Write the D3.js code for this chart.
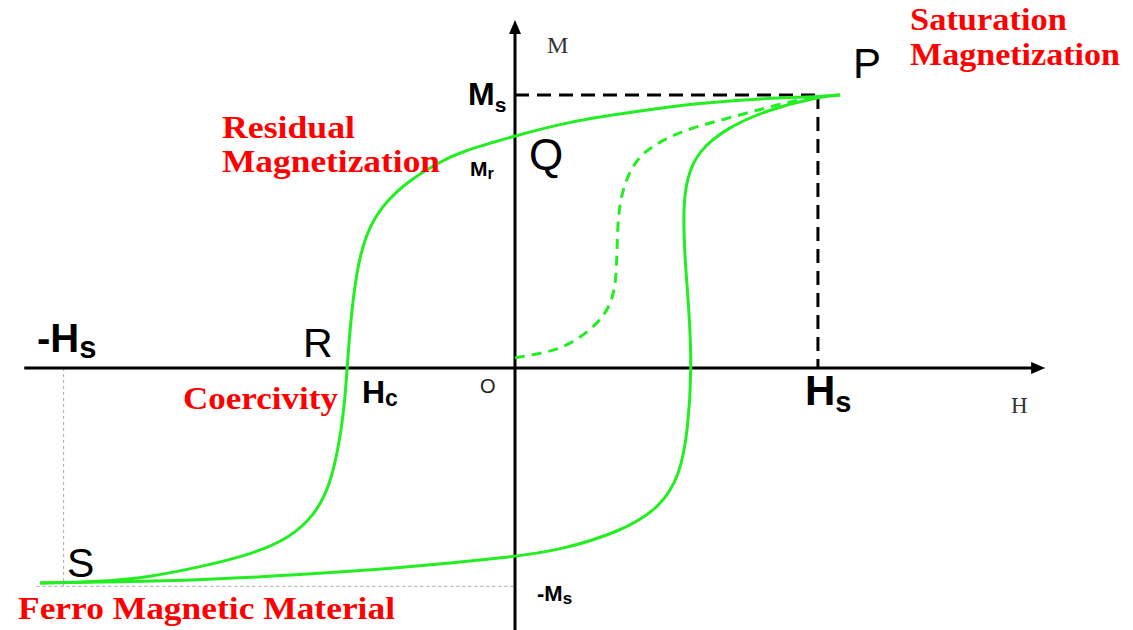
<!DOCTYPE html>
<html>
<head>
<meta charset="utf-8">
<script src="https://cdn.jsdelivr.net/npm/d3@7"></script>
<style>
	body { margin: 0; background: #fff; }
	svg { display: block; }
</style>
</head>
<body>
<svg id="canvas" width="1133" height="630"></svg>
<script>
// field H and magnetization M in relative units (Hs = 10, Ms = 10)
const satH = 10;
const satHNeg = -14.9;
const satM = 10;
const satMNeg = -8.0;

// upper branch, from P down to S
const upperH = [10.73, 10.0, 8.32, 6.11, 3.89, 1.72, 0, -1.82, -2.48, -3.47, -4.22, -4.79, -5.12, -5.31, -5.45, -5.54, -5.64, -5.84, -6.11, -6.6, -7.43, -8.75, -10.4, -12.05, -13.7, -15.68];
const upperM = [10.0, 9.93, 9.89, 9.71, 9.38, 9.01, 8.5, 7.91, 7.55, 6.89, 6.15, 5.24, 4.14, 2.86, 1.39, 0, -1.54, -3.0, -4.29, -5.38, -6.23, -6.85, -7.29, -7.66, -7.84, -7.88];

// lower branch, from S back up to P
const lowerH = [-15.68, -13.04, -10.4, -7.1, -3.8, 0, 1.49, 3.47, 4.79, 5.45, 5.71, 5.84, 5.74, 5.6, 5.55, 5.68, 6.05, 7.0, 8.32, 10.0, 10.73];
const lowerM = [-7.88, -7.84, -7.77, -7.58, -7.33, -6.92, -6.67, -6.01, -5.13, -3.92, -2.27, 0, 2.23, 4.07, 5.9, 7.0, 7.95, 8.8, 9.45, 9.93, 10.0];

// initial magnetization curve (dashed)
const initH = [0, 0.92, 1.72, 2.81, 3.3, 3.37, 3.4, 3.89, 4.46, 5.54, 7.19, 8.84, 9.97];
const initM = [0.37, 0.55, 0.77, 1.65, 2.6, 4.07, 6.15, 7.51, 8.1, 8.72, 9.19, 9.71, 9.93];

let canvas = d3.select("#canvas");

let xScale = d3.scaleLinear().domain([-17, 20.4]).range([0, 1133]);
let yScale = d3.scaleLinear().domain([13.48, -9.6]).range([0, 630]);

let green = "#22ee22";

let line = d3.line()
		.x((d) => xScale(d[0]))
		.y((d) => yScale(d[1]))
		.curve(d3.curveBasis);

let zip = (a, b) => a.map((v, i) => [v, b[i]]);

// thin grey guides at -Hs and -Ms
canvas.append("line")
		.attr("x1", xScale(satHNeg)).attr("x2", xScale(satHNeg))
		.attr("y1", yScale(0)).attr("y2", yScale(satMNeg))
		.attr("stroke", "#aaa").attr("stroke-width", 1).attr("stroke-dasharray", "3,3");
canvas.append("line")
		.attr("x1", xScale(-15.8)).attr("x2", xScale(0))
		.attr("y1", yScale(satMNeg)).attr("y2", yScale(satMNeg))
		.attr("stroke", "#aaa").attr("stroke-width", 1).attr("stroke-dasharray", "3,3");

// black dashed guides at Ms and Hs
canvas.append("line")
		.attr("x1", xScale(0)).attr("x2", xScale(satH))
		.attr("y1", yScale(satM)).attr("y2", yScale(satM))
		.attr("stroke", "#000").attr("stroke-width", 3).attr("stroke-dasharray", "14,8");
canvas.append("line")
		.attr("x1", xScale(satH)).attr("x2", xScale(satH))
		.attr("y1", yScale(satM)).attr("y2", yScale(0))
		.attr("stroke", "#000").attr("stroke-width", 3).attr("stroke-dasharray", "14,8");

// axes
canvas.append("line")
		.attr("x1", xScale(-16.2)).attr("x2", xScale(17.1))
		.attr("y1", yScale(0)).attr("y2", yScale(0))
		.attr("stroke", "#000").attr("stroke-width", 3);
canvas.append("line")
		.attr("x1", xScale(0)).attr("x2", xScale(0))
		.attr("y1", yScale(-9.6)).attr("y2", yScale(12.3))
		.attr("stroke", "#000").attr("stroke-width", 3);

let hx = xScale(17.5), hy = yScale(0);
canvas.append("path")
		.attr("d", `M${hx},${hy} L${hx - 14},${hy - 6} L${hx - 14},${hy + 6} Z`)
		.attr("fill", "#000");
let vx = xScale(0), vy = yScale(12.75);
canvas.append("path")
		.attr("d", `M${vx},${vy} L${vx - 6},${vy + 14} L${vx + 6},${vy + 14} Z`)
		.attr("fill", "#000");

// curves
canvas.append("path")
		.attr("d", line(zip(initH, initM)))
		.attr("fill", "none")
		.attr("stroke", green)
		.attr("stroke-width", 3)
		.attr("stroke-dasharray", "10,7");

canvas.append("path")
		.attr("d", line(zip(upperH, upperM)))
		.attr("fill", "none")
		.attr("stroke", green)
		.attr("stroke-width", 3);

canvas.append("path")
		.attr("d", line(zip(lowerH, lowerM)))
		.attr("fill", "none")
		.attr("stroke", green)
		.attr("stroke-width", 3);

// red annotations
let redText = (txt, x, y, width) => {
	canvas.append("text")
			.attr("x", x).attr("y", y)
			.attr("font-family", "'Liberation Serif', 'DejaVu Serif', serif")
			.attr("font-weight", "bold")
			.attr("font-size", 31)
			.attr("fill", "#f00")
			.attr("textLength", width)
			.attr("lengthAdjust", "spacingAndGlyphs")
			.text(txt);
};
redText("Saturation", 910, 30, 157);
redText("Magnetization", 910, 65, 210);
redText("Residual", 222, 138, 133);
redText("Magnetization", 222, 172, 218);
redText("Coercivity", 183, 409, 155);
redText("Ferro Magnetic Material", 18, 619, 377);

// plain letters
let plain = (txt, x, y, size, family, fill) => {
	canvas.append("text")
			.attr("x", x).attr("y", y)
			.attr("font-family", family)
			.attr("font-size", size)
			.attr("fill", fill)
			.text(txt);
};
let sans = "'Liberation Sans', Arial, sans-serif";
let serif = "'Liberation Serif', 'Times New Roman', serif";
plain("P", xScale(satH) + 35, 78, 42, sans, "#000");
plain("Q", xScale(0) + 14, 170, 44, sans, "#000");
plain("R", 303, yScale(0) - 11, 41, sans, "#000");
plain("S", 67, 577, 41, sans, "#000");
plain("M", xScale(0) + 32, 53, 24, serif, "#333");
plain("H", 1011, 413, 23, serif, "#333");
plain("O", xScale(0) - 35, 393, 20, sans, "#222");

// bold symbols with subscripts
let sym = (main, sub, x, y, size, subSize, dy) => {
	let t = canvas.append("text")
			.attr("x", x).attr("y", y)
			.attr("font-family", sans)
			.attr("font-weight", "bold")
			.attr("font-size", size)
			.attr("fill", "#000");
	t.append("tspan").text(main);
	t.append("tspan").attr("font-size", subSize).attr("dy", dy).text(sub);
};
sym("M", "s", 468, yScale(satM) + 10, 32, 21, 7);
sym("M", "r", 470, 176, 21, 16, 3);
sym("-M", "s", xScale(0) + 22, yScale(satMNeg) + 15, 22, 17, 3);
sym("H", "c", 362, 403, 32, 23, 3);
sym("H", "s", xScale(satH) - 13, 405, 42, 29, 7);
sym("-H", "s", 37, 352, 40, 31, 6);
</script>
</body>
</html>
